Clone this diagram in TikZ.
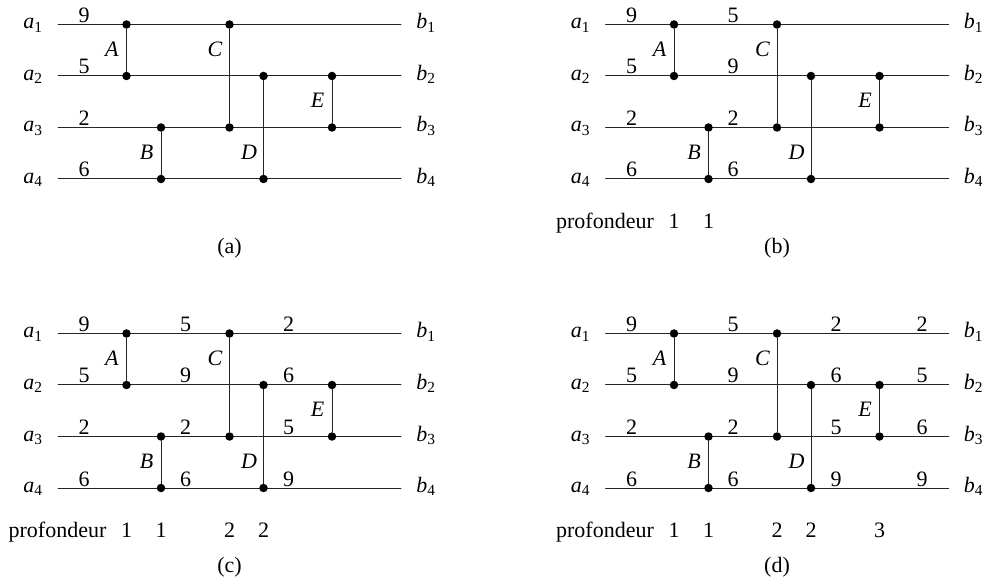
\documentclass[tikz,border=0pt]{standalone}
\usepackage{amsmath,amssymb}
\usepackage{xcolor}
\usepackage{fontspec}
\setmainfont{Liberation Serif}
\usetikzlibrary{calc}
\tikzset{
  fil/.style={line width=1pt,black!85},
  plot/.style={circle,fill=black,inner sep=0pt,minimum size=8.5pt},
  lab/.style={anchor=base,inner sep=0pt},
}
\newcommand{\reseau}[1]{%
\foreach \y/\i in {24/1,75.5/2,127/3,178.5/4} {
  \coordinate (#1g\i) at (58,\y);
  \coordinate (#1d\i) at (401,\y);
  \node[lab] (#1a\i) at (33,\y+4.5) {$\mathit{a}_{\mathrm{\i}}$};
  \node[lab] (#1b\i) at (426,\y+4.5) {$\mathit{b}_{\mathrm{\i}}$};
  \draw[fil] (#1g\i) -- (#1d\i);
}
\foreach \n/\x/\h/\l/\t in {A/126.5/24/75.5/56,B/161/127/178.5/159,C/229.5/24/127/56,D/263.5/75.5/178.5/159,E/332/75.5/127/107} {
  \node[plot] (#1\n h) at (\x,\h) {};
  \node[plot] (#1\n l) at (\x,\l) {};
  \draw[fil] (#1\n h) -- (#1\n l);
  \node[lab] (#1\n) at (\x-14.5,\t) {\textit{\n}};
}
}
\newcommand{\valeurs}[3]{%
\foreach \v/\y [count=\i] in {#3} {
  \node[lab] (#1v#2\i) at (#2,\y-2) {\v};
}
}
\newcommand{\profondeur}[2]{%
\node[lab] (#1prof) at (57.5,228) {profondeur};
\foreach \x/\d [count=\i] in {#2} {
  \node[lab] (#1prof\i) at (\x,228) {\d};
}
}
\begin{document}
\begin{tikzpicture}[x=1pt,y=-1pt,line cap=round,line join=round,font=\fontsize{22}{26}\selectfont]
\useasboundingbox (0,-0.5) rectangle (991,576.5);
\begin{scope}
\reseau{pa}
\valeurs{pa}{84}{9/24,5/75.5,2/127,6/178.5}
\node[lab] (capa) at (229.5,253.5) {(a)};
\end{scope}
\begin{scope}[shift={(547.5,0)}]
\reseau{pb}
\valeurs{pb}{84}{9/24,5/75.5,2/127,6/178.5}
\valeurs{pb}{185.5}{5/24,9/75.5,2/127,6/178.5}
\profondeur{pb}{126.5/1,161/1}
\node[lab] (capb) at (229.5,253.5) {(b)};
\end{scope}
\begin{scope}[shift={(0,309)}]
\reseau{pc}
\valeurs{pc}{84}{9/24,5/75.5,2/127,6/178.5}
\valeurs{pc}{185.5}{5/24,9/75.5,2/127,6/178.5}
\valeurs{pc}{288.5}{2/24,6/75.5,5/127,9/178.5}
\profondeur{pc}{126.5/1,161/1,229.5/2,263.5/2}
\node[lab] (capc) at (229.5,262.5) {(c)};
\end{scope}
\begin{scope}[shift={(547.5,309)}]
\reseau{pd}
\valeurs{pd}{84}{9/24,5/75.5,2/127,6/178.5}
\valeurs{pd}{185.5}{5/24,9/75.5,2/127,6/178.5}
\valeurs{pd}{288.5}{2/24,6/75.5,5/127,9/178.5}
\valeurs{pd}{374.5}{2/24,5/75.5,6/127,9/178.5}
\profondeur{pd}{126.5/1,161/1,229.5/2,263.5/2,332/3}
\node[lab] (capd) at (229.5,262.5) {(d)};
\end{scope}
\end{tikzpicture}
\end{document}
